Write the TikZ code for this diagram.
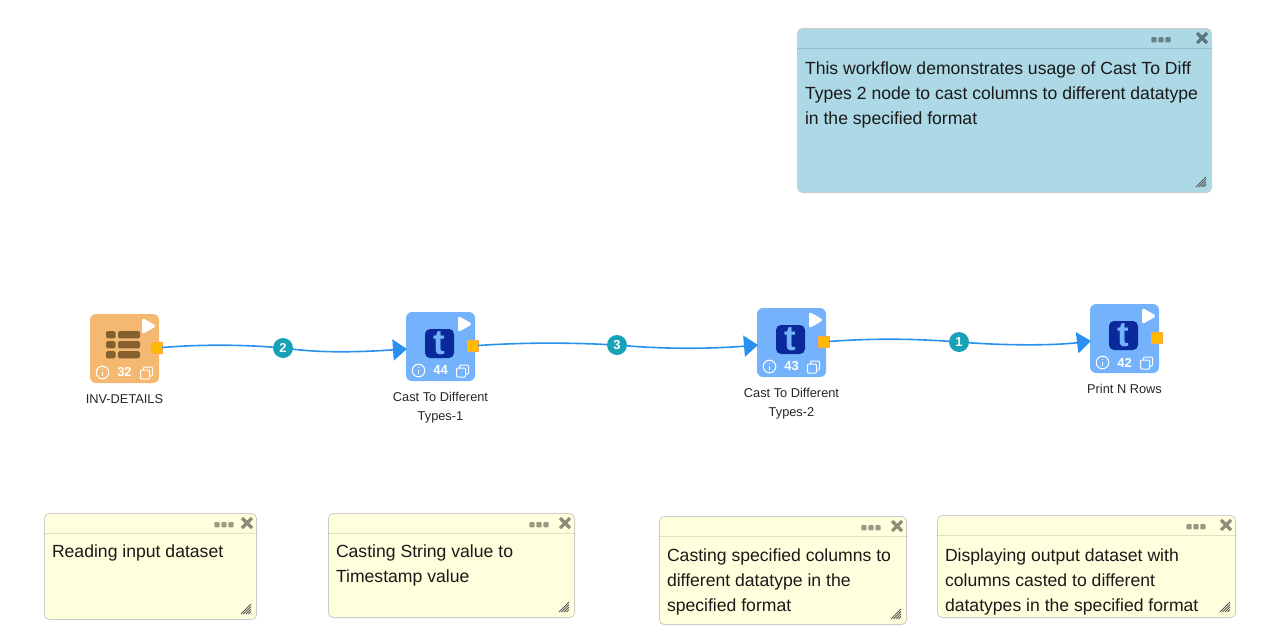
\documentclass[tikz,border=0pt]{standalone}
\usepackage{fontspec}
\setmainfont{Liberation Sans}
\usetikzlibrary{positioning,arrows.meta}
\definecolor{taskblue}{HTML}{74B3FB}
\definecolor{taskorange}{HTML}{F4B871}
\definecolor{tablebrown}{HTML}{85602F}
\definecolor{logoblue}{HTML}{0A2A9B}
\definecolor{wireblue}{HTML}{2A90F0}
\definecolor{badgeteal}{HTML}{17A2B8}
\definecolor{portyellow}{HTML}{FFBB00}
\definecolor{noteblue}{HTML}{ADD8E6}
\definecolor{noteyellow}{HTML}{FFFFDD}
\tikzset{
	taskbox/.style={rectangle, rounded corners=6pt, minimum size=69pt, inner sep=0pt},
	portbox/.style={rectangle, fill=portyellow, draw=orange!70, line width=0.6pt, minimum size=11pt, inner sep=0pt},
	tasklabel/.style={font=\fontsize{12.8}{19}\selectfont, align=center, text=black!85, inner sep=0pt},
	tasknum/.style={font=\fontsize{13}{14}\selectfont\bfseries, text=white, inner sep=0pt},
	badge/.style={circle, fill=badgeteal, text=white, minimum size=20pt, inner sep=0pt, font=\fontsize{13}{14}\selectfont\bfseries},
	wire/.style={wireblue, line width=1.6pt, -{Triangle[length=14pt,width=21pt]}},
	notebox/.style={rectangle, rounded corners=5pt, anchor=north west, inner sep=0pt, draw=black!20, line width=0.8pt},
	notetext/.style={anchor=north west, align=left, inner sep=0pt, text=black!90, font=\fontsize{17.6}{24.6}\selectfont},
	logo/.style={rectangle, rounded corners=5pt, fill=logoblue, minimum size=29pt, inner sep=0pt},
}
% name, centre x, centre y, fill, number, label
\newcommand{\tasknode}[6]{
	\node[taskbox, fill=#4] (#1) at (#2,#3) {};
	\node[portbox] (#1port) at ([shift={(31.8,-1)}]#1.center) {};
	\coordinate (#1in) at ([shift={(-33.5,2.5)}]#1.center);
	\fill[white, rounded corners=1.5pt, line width=1pt, draw=white] ([shift={(18,-30)}]#1.center) -- ++(13,7.5) -- ++(-13,7.5) -- cycle;
	\draw[white, line width=1pt] ([shift={(-22,24)}]#1.center) circle (6.3);
	\fill[white] ([shift={(-22.7,23)}]#1.center) rectangle ++(1.4,4.5);
	\fill[white] ([shift={(-22.7,20)}]#1.center) rectangle ++(1.4,1.5);
	\node[tasknum] (#1num) at ([yshift=-24pt]#1.center) {#5};
	\draw[white, line width=1pt, rounded corners=1pt] ([shift={(16,21.5)}]#1.center) rectangle ++(9,9);
	\draw[white, line width=1pt, rounded corners=1pt] ([shift={(19,21.5)}]#1.center) -- ++(0,-3) -- ++(9,0) -- ++(0,9) -- ++(-3,0);
	\node[tasklabel, anchor=north] (#1label) at ([yshift=-46pt]#1.center) {#6};
}
% name, x, y, width, height, fill, dots offset, text offset, text
\newcommand{\stickynote}[9]{
	\node[notebox, fill=#6, minimum width=#4pt, minimum height=#5pt] (#1) at (#2,#3) {};
	\draw[black, draw opacity=0.12, line width=0.7pt] ([yshift=-20.5pt]#1.north west) -- ([yshift=-20.5pt]#1.north east);
	\foreach \d in {-7,0,7}
		\fill[black, fill opacity=0.4, rounded corners=1pt] ([shift={(-#7+\d-2.7,9)}]#1.north east) rectangle ++(5.4,5.4);
	\draw[black, draw opacity=0.45, line width=3.2pt] ([shift={(-15,5)}]#1.north east) -- ++(10,10) ([shift={(-5,5)}]#1.north east) -- ++(-10,10);
	\foreach \d in {0,2.5,5,7.5}
		\draw[black!65, line width=0.9pt] ([shift={(-16+\d,-6)}]#1.south east) -- ([shift={(-6,-16+\d)}]#1.south east);
	\node[notetext] (#1text) at ([shift={(7.8,#8)}]#1.north west) {#9};
}
\begin{document}
\begin{tikzpicture}[x=1pt, y=-1pt]
	\useasboundingbox (0,0) rectangle (1277,643);

	\tasknode{inv}{124.5}{348.5}{taskorange}{32}{INV-DETAILS}
	\foreach \y in {-17.5,-7.5,2.5} {
		\fill[tablebrown, rounded corners=1.5pt] ([shift={(-18.5,\y)}]inv.center) rectangle ++(9.5,7.3);
		\fill[tablebrown, rounded corners=1.5pt] ([shift={(-6.5,\y)}]inv.center) rectangle ++(22,7.3);
	}
	\tasknode{castA}{440.5}{346.5}{taskblue}{44}{Cast To Different\\Types-1}
	\tasknode{castB}{791.5}{342.5}{taskblue}{43}{Cast To Different\\Types-2}
	\tasknode{rows}{1124.5}{338.5}{taskblue}{42}{Print N Rows}

	\foreach \n in {castA,castB,rows} {
		\node[logo] (\n logo) at ([shift={(-1,-3)}]\n.center) {};
		\node[text=taskblue, inner sep=0pt, font=\fontsize{35}{35}\selectfont\bfseries] (\n t) at (\n logo.center) {t};
	}

	\node[badge] (wireA) at (283,348) {2};
	\node[badge] (wireB) at (617,345) {3};
	\node[badge] (wireC) at (959,342) {1};

	\draw[wire] (invport.east) .. controls (205,344) and (245,345) .. (wireA) .. controls (325,353) and (360,352) .. (castAin);
	\draw[wire] (castAport.east) .. controls (530,342) and (575,343) .. (wireB) .. controls (665,349) and (710,349) .. (castBin);
	\draw[wire] (castBport.east) .. controls (875,338) and (915,339) .. (wireC) .. controls (1000,345) and (1050,346) .. (rowsin);

	\stickynote{goal}{797}{28}{414.2}{164.2}{noteblue}{51}{34}{This workflow demonstrates usage of Cast To Diff\\Types 2 node to cast columns to different datatype\\in the specified format}
	\stickynote{noteA}{44}{513}{212.2}{106.2}{noteyellow}{33}{32}{Reading input dataset}
	\stickynote{noteB}{328}{513}{246.2}{104.2}{noteyellow}{36}{32}{Casting String value to\\Timestamp value}
	\stickynote{noteC}{659}{516}{247.2}{108.2}{noteyellow}{36}{33}{Casting specified columns to\\different datatype in the\\specified format}
	\stickynote{noteD}{937}{515}{298.2}{102.2}{noteyellow}{40}{34}{Displaying output dataset with\\columns casted to different\\datatypes in the specified format}
\end{tikzpicture}
\end{document}
